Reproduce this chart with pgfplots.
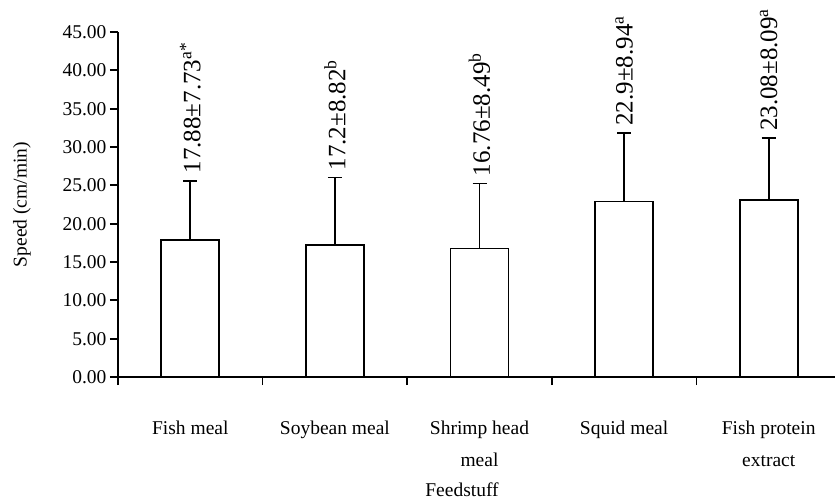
\documentclass[border=0pt]{standalone}
\usepackage{fontspec}
\setmainfont{Liberation Serif}
\usepackage{pgfplots}
\pgfplotsset{compat=1.18}
\usepackage{pgfplotstable}
\pgfplotstableread{
x mean sd
0 17.88 7.73
1 17.2 8.82
2 16.76 8.49
3 22.9 8.94
4 23.08 8.09
}\feeddata
\begin{document}
\begin{tikzpicture}
\begin{axis}[
  scale only axis,
  width=723bp, height=345bp,
  xmin=-0.5, xmax=4.5,
  ymin=0, ymax=45,
  axis lines*=left,
  axis line style={line width=1.8bp},
  font=\fontsize{19.5bp}{23bp}\selectfont,
  xtick={0,1,2,3,4},
  xticklabels={Fish meal,Soybean meal,Shrimp head\\meal,Squid meal,Fish protein\\extract},
  xticklabel style={align=center, font=\fontsize{19.5bp}{32bp}\selectfont, anchor=north, yshift=-32bp},
  major x tick style={draw=none},
  minor xtick={-0.5,0.5,1.5,2.5,3.5,4.5},
  ytick={0,5,...,45},
  tick align=outside,
  major tick length=8bp,
  minor tick length=8bp,
  tick style={line width=1.8bp, black},
  yticklabel style={/pgf/number format/.cd, fixed, fixed zerofill, precision=2, assume math mode=true},
  ylabel={Speed (cm/min)},
  every axis y label/.style={at={(axis description cs:0,0.5)}, xshift=-96bp, rotate=90, anchor=center},
  xlabel={Feedstuff},
  every axis x label/.style={at={(axis description cs:0,0)}, xshift=344bp, yshift=-113bp, anchor=center},
  clip=false,
]
\addplot[ybar, bar width=58bp, draw=black, fill=white, line width=1.8bp,
  error bars/.cd, y dir=plus, y explicit,
  error bar style={line width=1.8bp, black},
  error mark options={rotate=90, mark size=7bp, line width=1.8bp, black}]
  table[x=x, y=mean, y error=sd] {\feeddata};
\addplot[draw=none, mark=none, nodes near coords, point meta=explicit symbolic,
  every node near coord/.append style={rotate=90, anchor=west, inner sep=0pt, inner xsep=7bp, font=\fontsize{25bp}{28bp}\selectfont}]
  coordinates {
  (0,25.61) [17.88±7.73\textsuperscript{a*}]
  (1,26.02) [17.2±8.82\textsuperscript{b}]
  (2,25.25) [16.76±8.49\textsuperscript{b}]
  (3,31.84) [22.9±8.94\textsuperscript{a}]
  (4,31.17) [23.08±8.09\textsuperscript{a}]
  };
\end{axis}
\pgfresetboundingbox
\path (-118bp,-123bp) rectangle (717bp,377bp);
\end{tikzpicture}
\end{document}
